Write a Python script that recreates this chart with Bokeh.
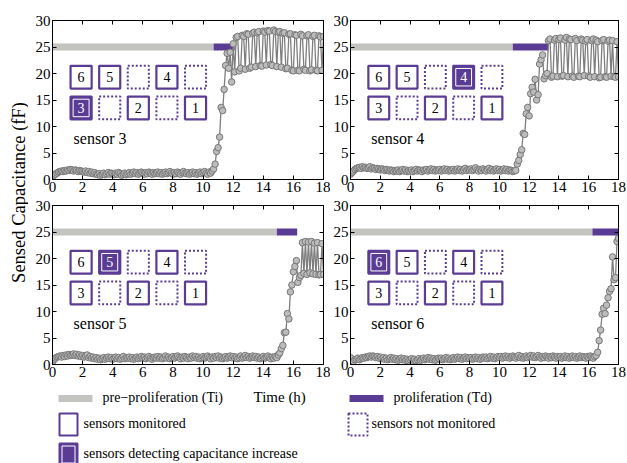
import numpy as np
from bokeh.plotting import figure
from bokeh.models import Range1d, LinearAxis, FixedTicker, Label
from bokeh.layouts import row, column
from bokeh.embed import file_html
from bokeh.resources import INLINE
from bokeh.core.properties import value

# ---------------- data ----------------
DT = 0.1  # hours between samples
x_ticks = [0, 2, 4, 6, 8, 10, 12, 14, 16, 18]
y_ticks = [0, 5, 10, 15, 20, 25, 30]

sensor_names = ["sensor 3", "sensor 4", "sensor 5", "sensor 6"]
active_sensor = ["3", "4", "5", "6"]
t_pre_end = [10.7, 10.9, 14.9, 16.25]      # end of pre-proliferation (Ti)
t_prolif_end = [12.1, 13.3, 16.25, 18.0]   # end of proliferation (Td)

cap_s3 = [
    0.5, 0.8, 1.0, 1.2, 1.4, 1.5, 1.6, 1.5, 1.7, 1.6,
    1.8, 1.7, 1.9, 1.8, 1.6, 1.8, 1.7, 1.5, 1.7, 1.6,
    1.5, 1.4, 1.6, 1.3, 1.5, 1.2, 1.4, 1.1, 1.3, 1.0,
    0.9, 1.1, 0.8, 1.0, 1.2, 0.9, 1.1, 1.3, 1.0, 1.2,
    1.1, 0.9, 1.2, 1.0, 1.3, 1.1, 0.8, 1.0, 1.2, 0.9,
    1.1, 1.3, 1.0, 1.2, 1.4, 1.1, 1.3, 1.0, 1.2, 1.4,
    1.2, 1.0, 1.3, 1.1, 1.4, 1.2, 1.0, 1.3, 1.1, 1.2,
    1.4, 1.1, 1.3, 1.0, 1.2, 1.4, 1.1, 1.3, 1.5, 1.2,
    1.0, 1.3, 1.1, 1.4, 1.2, 1.0, 1.3, 1.5, 1.2, 1.1,
    1.3, 1.0, 1.2, 1.4, 1.1, 1.3, 1.0, 1.2, 1.4, 1.1,
    1.3, 1.5, 1.2, 1.0, 1.4, 1.2, 1.6, 2.0, 2.9, 5.3,
    6.0, 8.0, 13.6, 13.0, 17.0, 21.5, 23.8, 21.0, 24.0, 18.4,
    25.6, 20.3, 26.8, 27.0, 20.5, 21.0, 27.2, 27.0, 20.8, 27.5,
    27.4, 21.0, 21.2, 27.6, 27.8, 21.3, 27.7, 27.9, 21.5, 21.4,
    28.0, 27.8, 21.6, 28.1, 28.0, 21.7, 21.5, 28.2, 27.9, 21.3,
    27.8, 27.9, 21.2, 27.6, 27.7, 20.9, 21.0, 27.4, 27.5, 20.6,
    20.5, 27.3, 27.2, 20.6, 20.5, 27.4, 27.1, 20.8, 20.6, 27.1,
    27.3, 20.5, 20.7, 27.0, 27.2, 20.6, 20.5, 27.1, 26.9, 20.6,
    27.0,
]

cap_s4 = [
    1.0, 1.3, 1.6, 1.9, 2.1, 2.2, 2.3, 2.1, 2.4, 2.2,
    2.3, 2.1, 2.2, 2.4, 2.0, 2.2, 2.1, 1.9, 2.1, 2.0,
    1.8, 2.0, 1.9, 1.7, 1.9, 1.8, 1.6, 1.8, 1.7, 1.5,
    1.7, 1.6, 1.8, 1.5, 1.7, 1.9, 1.6, 1.8, 1.5, 1.7,
    1.6, 1.8, 1.5, 1.7, 1.9, 1.6, 1.8, 1.7, 1.5, 1.8,
    1.7, 1.9, 1.6, 1.8, 2.0, 1.7, 1.9, 1.6, 1.8, 1.7,
    1.9, 1.6, 1.8, 2.0, 1.7, 1.9, 1.6, 1.8, 1.7, 1.9,
    1.6, 1.8, 2.0, 1.7, 1.9, 1.6, 1.8, 2.1, 1.7, 1.9,
    1.8, 2.0, 1.7, 1.9, 2.2, 1.8, 1.6, 1.9, 1.7, 2.0,
    1.8, 1.6, 1.9, 2.1, 1.7, 1.9, 1.6, 1.8, 2.0, 1.7,
    1.9, 1.6, 1.8, 2.0, 1.7, 1.9, 1.6, 1.8, 1.7, 1.5,
    1.6, 1.7, 2.9, 3.6, 4.7, 5.6, 8.7, 8.5, 12.4, 13.6,
    12.0, 16.2, 17.4, 16.5, 18.9, 15.0, 16.0, 21.8, 22.6, 23.5,
    19.0, 19.6, 20.0, 26.2, 26.5, 19.3, 19.5, 26.3, 26.6, 19.4,
    26.4, 26.7, 19.5, 19.6, 26.3, 26.8, 19.4, 26.5, 26.4, 19.5,
    19.3, 26.6, 26.2, 19.5, 19.4, 26.5, 26.3, 19.6, 26.1, 26.4,
    19.5, 19.3, 26.2, 26.5, 19.4, 26.3, 26.0, 19.2, 19.3, 26.2,
    26.4, 19.4, 19.3, 26.1, 26.3, 19.5, 26.2, 19.4, 19.3, 26.0,
    19.4,
]

cap_s5 = [
    0.5, 0.9, 1.2, 1.4, 1.5, 1.6, 1.4, 1.7, 1.5, 1.8,
    1.6, 1.9, 1.7, 1.8, 2.0, 1.7, 1.9, 1.6, 1.8, 1.5,
    1.7, 1.4, 1.6, 1.8, 1.3, 1.5, 1.2, 1.4, 1.1, 1.3,
    1.0, 1.2, 0.9, 1.1, 1.3, 1.0, 1.2, 1.4, 1.1, 1.3,
    1.0, 1.2, 1.4, 1.1, 1.3, 1.0, 1.2, 1.5, 1.1, 1.3,
    1.2, 1.4, 1.1, 1.3, 1.0, 1.2, 1.4, 1.1, 1.3, 1.5,
    1.2, 1.4, 1.1, 1.3, 1.5, 1.2, 1.0, 1.3, 1.4, 1.2,
    1.5, 1.2, 1.4, 1.1, 1.3, 1.6, 1.2, 1.4, 1.1, 1.3,
    1.5, 1.2, 1.4, 1.6, 1.3, 1.1, 1.4, 1.2, 1.5, 1.3,
    1.1, 1.4, 1.2, 1.6, 1.3, 1.5, 1.2, 1.4, 1.1, 1.3,
    1.5, 1.2, 1.4, 1.6, 1.3, 1.1, 1.4, 1.2, 1.5, 1.3,
    1.6, 1.2, 1.4, 1.1, 1.3, 1.5, 1.2, 1.4, 1.6, 1.3,
    1.5, 1.2, 1.4, 1.1, 1.3, 1.6, 1.2, 1.4, 1.7, 1.3,
    1.5, 1.2, 1.4, 1.6, 1.3, 1.5, 1.2, 1.4, 1.1, 1.3,
    1.5, 1.2, 1.4, 1.6, 1.3, 1.1, 1.4, 1.2, 1.5, 1.3,
    1.8, 2.2, 3.0, 3.6, 6.0, 6.1, 9.6, 8.6, 13.7, 15.0,
    17.5, 18.5, 19.6, 15.5, 16.4, 16.8, 23.0, 17.2, 23.2, 17.0,
    23.1, 17.3, 23.2, 17.1, 22.9, 17.0, 23.0, 16.9, 17.0, 22.8,
    17.0,
]

cap_s6 = [
    1.3, 0.3, 0.6, 0.9, 1.0, 1.2, 0.9, 1.1, 1.3, 1.2,
    1.4, 1.3, 1.5, 1.6, 1.4, 1.6, 1.5, 1.3, 1.5, 1.2,
    1.4, 1.1, 1.3, 1.0, 1.2, 0.9, 1.1, 1.3, 1.0, 1.2,
    0.9, 1.1, 0.8, 1.0, 1.2, 0.9, 1.1, 0.8, 1.0, 0.7,
    0.9, 1.1, 0.8, 1.0, 0.7, 0.9, 1.1, 0.8, 1.0, 1.2,
    0.9, 1.1, 1.3, 1.0, 1.2, 0.9, 1.1, 0.8, 1.0, 1.2,
    1.0, 1.2, 0.9, 1.1, 1.3, 1.0, 1.2, 0.9, 1.1, 1.3,
    1.0, 1.2, 1.4, 1.1, 1.3, 1.0, 1.2, 1.4, 1.1, 1.3,
    1.1, 1.3, 1.0, 1.2, 1.4, 1.1, 1.3, 1.0, 1.2, 1.4,
    1.2, 1.4, 1.1, 1.3, 1.5, 1.2, 1.4, 1.1, 1.3, 1.5,
    1.3, 1.5, 1.2, 1.4, 1.6, 1.3, 1.5, 1.2, 1.4, 1.6,
    1.4, 1.2, 1.5, 1.7, 1.3, 1.5, 1.2, 1.4, 1.6, 1.3,
    1.5, 1.7, 1.4, 1.6, 1.3, 1.5, 1.7, 1.4, 1.2, 1.5,
    1.3, 1.6, 1.4, 1.2, 1.5, 1.3, 1.6, 1.4, 1.2, 1.5,
    1.3, 1.5, 1.2, 1.4, 1.6, 1.3, 1.5, 1.2, 1.4, 1.6,
    1.3, 1.5, 1.2, 1.4, 1.6, 1.3, 1.5, 1.4, 1.2, 1.5,
    1.3, 1.6, 1.4, 1.2, 1.5, 1.7, 2.3, 4.5, 6.5, 9.5,
    10.6, 9.6, 11.2, 12.6, 13.8, 14.3, 20.3, 16.0, 16.4, 23.2,
    23.8,
]

series = [cap_s3, cap_s4, cap_s5, cap_s6]

# sensor map (2 rows x 5 columns)
box_labels = ["6", "5", "", "4", "", "3", "", "2", "", "1"]
box_monitored = [1, 1, 0, 1, 0, 1, 0, 1, 0, 1]

# ---------------- styling / layout constants ----------------
FONT = "'Liberation Serif', 'Times New Roman', serif"
PURPLE = "#5b3c94"
BAR_GRAY = "#c3c4c0"
LINE_GRAY = "#7e7e7e"
BOX_X = [1.9, 3.8, 5.7, 7.6, 9.5] * 2
BOX_Y = [19.3] * 5 + [13.5] * 5
BOX_W, BOX_H = 1.4, 4.3


def style_axis(ax, ticks, labels=True):
    ax.ticker = FixedTicker(ticks=ticks)
    ax.major_tick_in = 4
    ax.major_tick_out = 0
    ax.minor_tick_line_color = None
    ax.axis_line_color = "black"
    ax.major_tick_line_color = "black"
    ax.major_label_text_font = FONT
    ax.major_label_text_color = "black"
    if labels:
        ax.major_label_text_font_size = "15px"
        ax.major_label_standoff = 2
    else:
        ax.major_label_overrides = {t: "" for t in ticks}
        ax.major_label_text_font_size = "0px"
        ax.major_label_standoff = 0


def make_panel(i, width, height, bl, br, bt, bb):
    p = figure(width=width, height=height, output_backend="svg",
               toolbar_location=None, x_range=Range1d(0, 18),
               y_range=Range1d(0, 30), min_border_left=bl,
               min_border_right=br, min_border_top=bt, min_border_bottom=bb)
    p.grid.visible = False
    p.outline_line_color = "black"
    style_axis(p.xaxis[0], x_ticks)
    style_axis(p.yaxis[0], y_ticks)
    top = LinearAxis()
    style_axis(top, x_ticks, labels=False)
    p.add_layout(top, "above")
    right = LinearAxis()
    style_axis(right, y_ticks, labels=False)
    p.add_layout(right, "right")

    ti, td = t_pre_end[i], t_prolif_end[i]
    p.hbar(y=[25], left=[0], right=[ti], height=1.3, fill_color=BAR_GRAY,
           line_color=None)
    p.hbar(y=[25], left=[ti], right=[td], height=1.3, fill_color=PURPLE,
           line_color=None)

    # sensor map boxes
    for bx, by, lab, mon in zip(BOX_X, BOX_Y, box_labels, box_monitored):
        if not mon:
            p.rect(x=[bx], y=[by], width=BOX_W, height=BOX_H,
                   fill_color="white", line_color=PURPLE, line_width=2,
                   line_dash="2 2")
            continue
        active = lab == active_sensor[i]
        p.rect(x=[bx], y=[by], width=BOX_W, height=BOX_H,
               fill_color=PURPLE if active else "white",
               line_color=PURPLE, line_width=2.2)
        if active:
            p.rect(x=[bx], y=[by], width=BOX_W - 0.34, height=BOX_H - 1.0,
                   fill_color=None, line_color="white", line_width=1)
        p.text(x=[bx], y=[by], text=[lab], text_align="center",
               text_baseline="middle", text_font=value(FONT),
               text_font_size="14px",
               text_color="white" if active else "black")

    p.text(x=[1.4], y=[7.7], text=[sensor_names[i]], text_baseline="middle",
           text_font=value(FONT), text_font_size="16px", text_color="black")

    vals = series[i]
    t = np.arange(len(vals)) * DT
    p.line(t, vals, line_color=LINE_GRAY, line_width=1.3)
    p.scatter(t, vals, size=6.5, line_color="#777777", fill_color="#bcbcbc",
              line_width=1)
    return p


# figure sizes: (width, height, border left, right, top, bottom)
p1 = make_panel(0, 302, 198, 24, 7, 20, 19)
p2 = make_panel(1, 297, 198, 18, 9, 20, 19)
p3 = make_panel(2, 302, 186, 24, 7, 7, 20)
p4 = make_panel(3, 297, 186, 18, 9, 7, 20)

# y-axis label column
ylab = figure(width=28, height=384, output_backend="svg", toolbar_location=None,
              x_range=Range1d(0, 28), y_range=Range1d(0, 384), min_border=0)
ylab.axis.visible = False
ylab.grid.visible = False
ylab.outline_line_color = None
ylab.add_layout(Label(x=18, y=192, text="Sensed Capacitance (fF)",
                      angle=np.pi / 2, text_align="center",
                      text_baseline="middle", text_font=FONT,
                      text_font_size="18.5px", text_color="black"))

# legend strip
leg = figure(width=627, height=79, output_backend="svg", toolbar_location=None,
             x_range=Range1d(0, 627), y_range=Range1d(0, 79), min_border=0)
leg.axis.visible = False
leg.grid.visible = False
leg.outline_line_color = None

leg.rect(x=[75], y=[65], width=34, height=7, fill_color=BAR_GRAY, line_color=None)
leg.rect(x=[366], y=[65], width=34, height=7, fill_color=PURPLE, line_color=None)
leg.rect(x=[68], y=[39], width=18, height=22, fill_color="white",
         line_color=PURPLE, line_width=2)
leg.rect(x=[357.5], y=[39], width=19, height=22, fill_color="white",
         line_color=PURPLE, line_width=2, line_dash="2 2")
leg.rect(x=[68], y=[9], width=18, height=22, fill_color=PURPLE,
         line_color=PURPLE, line_width=2)
leg.rect(x=[68], y=[9], width=13, height=17, fill_color=None,
         line_color="white", line_width=1)

leg.text(x=[102, 393, 83, 371, 83], y=[66, 66, 40, 40, 10],
         text=["pre\u2212proliferation (Ti)", "proliferation (Td)",
               "sensors monitored", "sensors not monitored",
               "sensors detecting capacitance increase"],
         text_baseline="middle", text_font=value(FONT), text_font_size="14px",
         text_color="black")
leg.text(x=[253], y=[67], text=["Time (h)"], text_baseline="middle",
         text_font=value(FONT), text_font_size="15px", text_color="black")

layout = column(row(ylab, column(row(p1, p2), row(p3, p4))), leg)

open("out.html", "w").write(file_html(layout, INLINE))
